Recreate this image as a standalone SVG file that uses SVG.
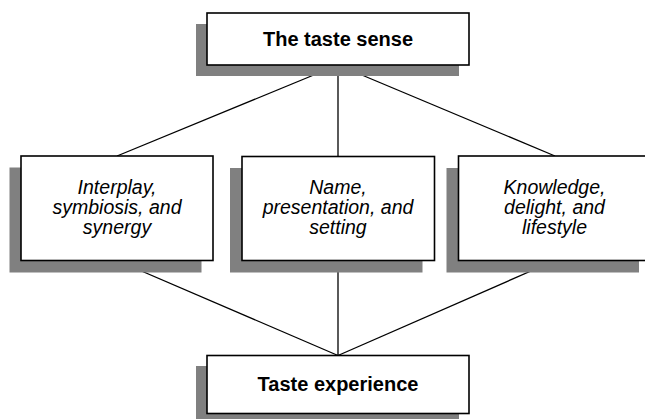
<svg xmlns="http://www.w3.org/2000/svg" width="645" height="419" viewBox="0 0 645 419">
<style>
.shadow{fill:#808080;stroke:none}
.box{fill:#ffffff;stroke:#000000;stroke-width:1.6}
.edge{stroke:#000000;stroke-width:1.3;fill:none}
.bold{font-family:"Liberation Sans",Arial,sans-serif;font-weight:bold;font-size:20px;text-anchor:middle;fill:#000}
.ital{font-family:"Liberation Sans",Arial,sans-serif;font-style:italic;font-size:19.5px;text-anchor:middle;fill:#000}
</style>
<rect width="645" height="419" fill="#ffffff"/>
<g id="connectors">
<line class="edge" x1="338" y1="65" x2="117" y2="156"/>
<line class="edge" x1="338" y1="65" x2="338" y2="156"/>
<line class="edge" x1="338" y1="65" x2="555" y2="156"/>
<line class="edge" x1="117" y1="260.5" x2="338" y2="355.5"/>
<line class="edge" x1="338" y1="260.5" x2="338" y2="355.5"/>
<line class="edge" x1="555" y1="260.5" x2="338" y2="355.5"/>
</g>
<g id="taste-sense">
<rect class="shadow" x="196" y="24" width="263" height="52"/>
<rect class="box" x="207" y="13" width="262" height="52"/>
<text class="bold" x="338" y="46">The taste sense</text>
</g>
<g id="interplay">
<rect class="shadow" x="9.5" y="167.5" width="192" height="105"/>
<rect class="box" x="21" y="156" width="192" height="104.5"/>
<text class="ital" x="117" y="194">Interplay,</text>
<text class="ital" x="117" y="214">symbiosis, and</text>
<text class="ital" x="117" y="234">synergy</text>
</g>
<g id="name">
<rect class="shadow" x="230" y="168" width="192.5" height="104.5"/>
<rect class="box" x="242" y="156.5" width="192.5" height="104"/>
<text class="ital" x="338" y="194">Name,</text>
<text class="ital" x="338" y="214">presentation, and</text>
<text class="ital" x="338" y="234">setting</text>
</g>
<g id="knowledge">
<rect class="shadow" x="446.5" y="168" width="192.5" height="104.5"/>
<rect class="box" x="458.5" y="156" width="192.5" height="104.5"/>
<text class="ital" x="554.5" y="194">Knowledge,</text>
<text class="ital" x="554.5" y="214">delight, and</text>
<text class="ital" x="554.5" y="234">lifestyle</text>
</g>
<g id="taste-experience">
<rect class="shadow" x="196" y="366" width="263" height="58"/>
<rect class="box" x="207" y="355.5" width="262" height="58"/>
<text class="bold" x="338" y="391">Taste experience</text>
</g>
</svg>
